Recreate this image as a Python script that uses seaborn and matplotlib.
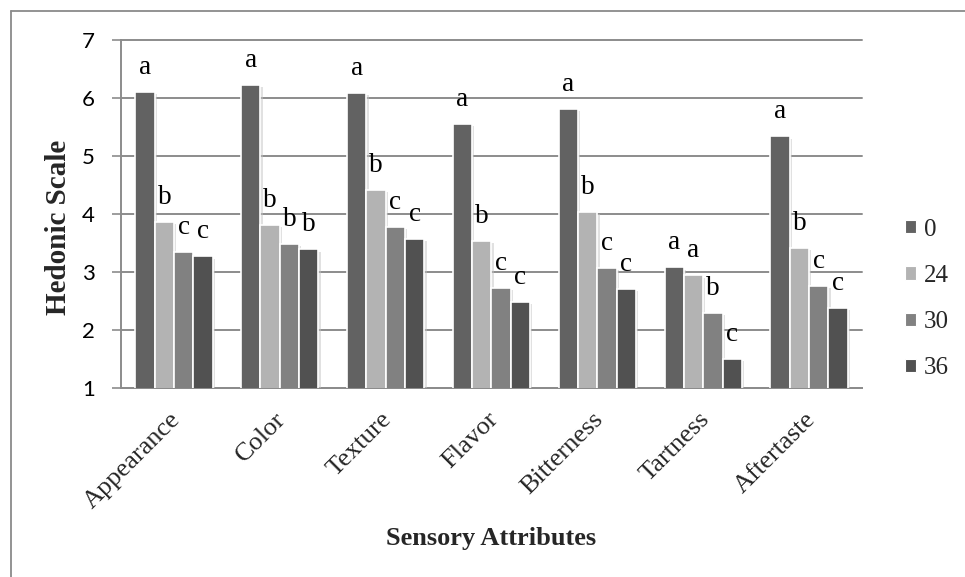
import matplotlib
matplotlib.use("Agg")
import matplotlib.pyplot as plt
import matplotlib.transforms as mtransforms
from matplotlib import patheffects as pe
from matplotlib.patches import Rectangle
from matplotlib.lines import Line2D
import pandas as pd
import seaborn as sns

# Sensory scores per attribute for each storage time
attributes = ["Appearance", "Color", "Texture", "Flavor", "Bitterness", "Tartness", "Aftertaste"]
storage = ["0", "24", "30", "36"]
scores_0 = [6.10, 6.22, 6.09, 5.55, 5.81, 3.08, 5.34]
scores_24 = [3.86, 3.81, 4.42, 3.54, 4.03, 2.94, 3.41]
scores_30 = [3.34, 3.49, 3.78, 2.72, 3.07, 2.29, 2.76]
scores_36 = [3.27, 3.39, 3.57, 2.48, 2.71, 1.50, 2.38]

# Significance letters above each bar
letters_0 = ["a", "a", "a", "a", "a", "a", "a"]
letters_24 = ["b", "b", "b", "b", "b", "a", "b"]
letters_30 = ["c", "b", "c", "c", "c", "b", "c"]
letters_36 = ["c", "b", "c", "c", "c", "c", "c"]

y_ticks = [1, 2, 3, 4, 5, 6, 7]
bar_colors = ["#626262", "#b3b3b3", "#818181", "#515151"]

series = [scores_0, scores_24, scores_30, scores_36]
letters = [letters_0, letters_24, letters_30, letters_36]

rows = []
for level, vals in zip(storage, series):
    for attr, v in zip(attributes, vals):
        rows.append({"Attribute": attr, "Storage": level, "Score": v})
df = pd.DataFrame(rows)

sns.set_theme(style="white")
serif = ["Liberation Serif", "DejaVu Serif"]
plt.rcParams["font.family"] = serif

W, H = 965, 577
fig = plt.figure(figsize=(W / 100, H / 100), dpi=100)
ax = fig.add_axes([121 / W, 1 - 388 / H, (862 - 121) / W, (388 - 40) / H])

grid_col = "#8c8c8c"

sns.barplot(
    data=df, x="Attribute", y="Score", hue="Storage",
    order=attributes, hue_order=storage, palette=bar_colors,
    saturation=1, width=0.73, edgecolor="white", linewidth=1.2,
    ax=ax, zorder=3,
)

shadow = [pe.SimplePatchShadow(offset=(1.6, -1.6), shadow_rgbFace="#c4c4c4", alpha=0.5), pe.Normal()]
for cont in ax.containers:
    for bar in cont:
        bar.set_path_effects(shadow)

# Letters above the bars
for cont, labs in zip(ax.containers, letters):
    for bar, lab in zip(cont, labs):
        ax.annotate(
            lab, xy=(bar.get_x() + bar.get_width() / 2, bar.get_height()),
            xytext=(0, 13), textcoords="offset points",
            ha="center", va="baseline", fontsize=19.5, family=serif,
            color="black", zorder=5, annotation_clip=False,
        )

ax.set_ylim(1, 7)
ax.set_xlim(-0.5, len(attributes) - 0.5)
ax.set_yticks(y_ticks)
ax.set_yticklabels([str(t) for t in y_ticks], family=["Lato", "DejaVu Sans"], fontsize=16)
ax.yaxis.grid(True, color=grid_col, linewidth=1.4)
for gl in ax.get_ygridlines():
    gl.set_clip_on(False)
ax.set_axisbelow(True)

ax.tick_params(axis="y", which="major", length=6.5, width=1.2, color=grid_col,
               pad=12.5, left=True, labelcolor="black")
ax.tick_params(axis="x", which="major", length=0, pad=14.5)

ax.set_xticks(range(len(attributes)))
ax.set_xticklabels(attributes, rotation=45, ha="right", va="top",
                   rotation_mode="anchor", fontsize=19, family=serif)
offset = mtransforms.ScaledTranslation(-5 / 100, 0, fig.dpi_scale_trans)
for lbl in ax.get_xticklabels():
    lbl.set_transform(lbl.get_transform() + offset)

for side in ["top", "right"]:
    ax.spines[side].set_visible(False)
for side in ["left", "bottom"]:
    ax.spines[side].set_color(grid_col)
    ax.spines[side].set_linewidth(1.4)

ax.set_xlabel("Sensory Attributes", fontsize=19, fontweight="bold", family=serif)
ax.xaxis.set_label_coords((491.5 - 121) / (862 - 121), (388 - 539) / (388 - 40))
ax.xaxis.label.set_va("center")
ax.set_ylabel("Hedonic Scale", fontsize=21, fontweight="bold", family=serif)
ax.yaxis.set_label_coords((58 - 121) / (862 - 121), (388 - 227) / (388 - 40))
ax.yaxis.label.set_va("center")

# Legend with small square keys
if ax.get_legend() is not None:
    ax.get_legend().remove()
handles = [Rectangle((0, 0), 1, 1, facecolor=c, edgecolor="white", linewidth=0.8) for c in bar_colors]
fig.legend(
    handles, storage, loc="center left",
    bbox_to_anchor=(905 / W, 1 - 299 / H), bbox_transform=fig.transFigure,
    frameon=False, handlelength=0.45, handleheight=0.45, handletextpad=0.3,
    labelspacing=0.97, borderpad=0, borderaxespad=0,
    prop={"family": serif, "size": 18},
)

# Outer chart frame, open at the right and bottom edges
frame_kw = dict(color="#8a8a8a", linewidth=1.3, transform=fig.transFigure)
fig.add_artist(Line2D([10.5 / W, 10.5 / W], [1 - 10.5 / H, 0], **frame_kw))
fig.add_artist(Line2D([10.5 / W, 1], [1 - 10.5 / H, 1 - 10.5 / H], **frame_kw))

fig.savefig("out.png", dpi=100, facecolor="white")
